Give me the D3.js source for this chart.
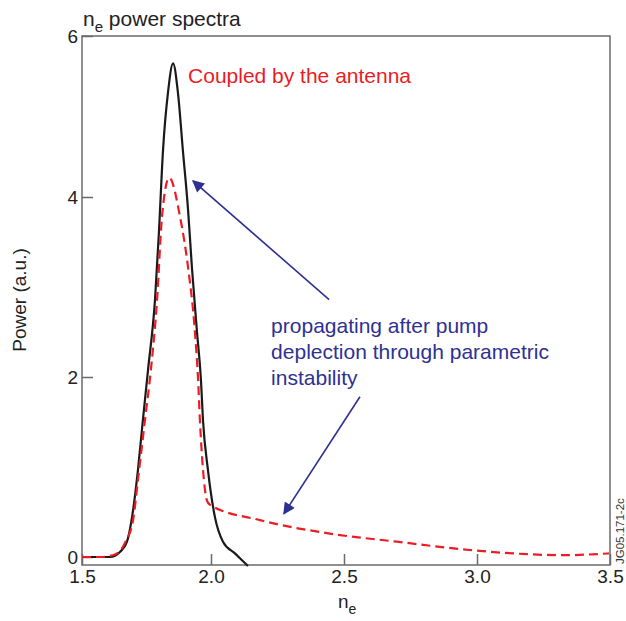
<!DOCTYPE html>
<html>
<head>
<meta charset="utf-8">
<script src="https://cdn.jsdelivr.net/npm/d3@7"></script>
<style>
  body { margin: 0; background: #fff; }
  svg { display: block; font-family: "Liberation Sans", Arial, Helvetica, sans-serif; }
</style>
</head>
<body>
<div class="d3Chart"></div>
<script>
// tick labels
var xTicks = [1.5, 2.0, 2.5, 3.0, 3.5];
var yTicks = [0, 2, 4, 6];

// black solid curve (total spectrum)
var neTotal = [1.5, 1.609, 1.647, 1.674, 1.698, 1.717, 1.736, 1.756, 1.783, 1.798, 1.814, 1.833, 1.853,
  1.872, 1.891, 1.911, 1.926, 1.946, 1.961, 1.969, 1.988, 2.015, 2.045, 2.092, 2.139];
var powerTotal = [0, 0, 0.056, 0.167, 0.52, 0.97, 1.52, 2.08, 2.86, 3.6, 4.58, 5.29, 5.66,
  5.29, 4.58, 3.86, 3.22, 2.49, 1.97, 1.52, 0.97, 0.44, 0.17, 0.035, -0.1];

// red dashed curve (coupled by the antenna)
var neAntenna = [1.5, 1.57, 1.63, 1.667, 1.698, 1.717, 1.744, 1.767, 1.791, 1.81, 1.838, 1.88, 1.911,
  1.938, 1.95, 1.957, 1.969, 1.984, 1.996, 2.184, 2.447, 2.699, 3.0, 3.199, 3.323, 3.496];
var powerAntenna = [0, 0, 0.03, 0.16, 0.41, 0.86, 1.52, 2.08, 2.86, 3.78, 4.24, 3.78, 3.22,
  2.49, 1.97, 1.52, 0.97, 0.63, 0.58, 0.41, 0.26, 0.17, 0.07, 0.03, 0.02, 0.04];

var width = 626;
var height = 621;
// plot box
var boxLeft = 82, boxRight = 610, boxTop = 36, boxBottom = 565;

var red = "#ec1c24";
var blue = "#2e3192";
var frameColor = "#6b6b6b";

var svg = d3
  .select(".d3Chart")
  .append("svg")
  .attr("width", width)
  .attr("height", height);

// scales (the original figure's axes are slightly uneven, so piecewise)
var x = d3.scaleLinear().domain(xTicks).range([82, 211, 344, 477, 610]);
var y = d3.scaleLinear().domain(yTicks).range([557, 377, 197, 36]);

// frame
svg.append("rect")
  .attr("x", boxLeft)
  .attr("y", boxTop)
  .attr("width", boxRight - boxLeft)
  .attr("height", boxBottom - boxTop)
  .attr("fill", "none")
  .attr("stroke", frameColor)
  .attr("stroke-width", 1.5);

// x axis, ticks inside
var xAxis = svg.append("g")
  .attr("transform", "translate(0," + boxBottom + ")")
  .call(d3.axisBottom(x).tickValues(xTicks).tickFormat(d3.format(".1f")).tickSize(-11).tickPadding(5));
xAxis.select(".domain").remove();
xAxis.selectAll("line").attr("stroke", frameColor).attr("stroke-width", 1.5);
xAxis.selectAll("text").attr("font-size", 19).attr("fill", "#222").attr("font-family", null);

// y axis, ticks inside
var yAxis = svg.append("g")
  .attr("transform", "translate(" + boxLeft + ",0)")
  .call(d3.axisLeft(y).tickValues(yTicks).tickFormat(d3.format("d")).tickSize(-11).tickPadding(4));
yAxis.select(".domain").remove();
yAxis.selectAll("line").attr("stroke", frameColor).attr("stroke-width", 1.5);
yAxis.selectAll("text").attr("font-size", 19).attr("fill", "#222").attr("font-family", null);

// axis labels
var xLabel = svg.append("text")
  .attr("x", 338)
  .attr("y", 608)
  .attr("font-size", 19)
  .attr("fill", "#222");
xLabel.append("tspan").text("n");
xLabel.append("tspan").attr("font-size", 14).attr("dy", 6).text("e");

svg.append("text")
  .attr("transform", "translate(26,300) rotate(-90)")
  .attr("text-anchor", "middle")
  .attr("font-size", 19)
  .attr("fill", "#222")
  .text("Power (a.u.)");

// title
var title = svg.append("text")
  .attr("x", 83)
  .attr("y", 26)
  .attr("font-size", 21)
  .attr("fill", "#222");
title.append("tspan").text("n");
title.append("tspan").attr("font-size", 15).attr("dy", 6).text("e");
title.append("tspan").attr("dy", -6).text(" power spectra");

// figure id
svg.append("text")
  .attr("transform", "translate(624,564) rotate(-90)")
  .attr("font-size", 11.5)
  .attr("fill", "#333")
  .text("JG05.171-2c");

// curves
var line = d3.line()
  .x((d) => x(d[0]))
  .y((d) => y(d[1]))
  .curve(d3.curveMonotoneX);

svg.append("path")
  .attr("d", line(d3.zip(neTotal, powerTotal)))
  .attr("fill", "none")
  .attr("stroke", "#1a1a1a")
  .attr("stroke-width", 2.2);

svg.append("path")
  .attr("d", line(d3.zip(neAntenna, powerAntenna)))
  .attr("fill", "none")
  .attr("stroke", red)
  .attr("stroke-width", 2.2)
  .attr("stroke-dasharray", "9,5");

// annotations
svg.append("text")
  .attr("x", x(1.911))
  .attr("y", y(5.42))
  .attr("font-size", 21)
  .attr("fill", red)
  .text("Coupled by the antenna");

var note = svg.append("text")
  .attr("x", x(2.226))
  .attr("font-size", 21)
  .attr("fill", blue);
["propagating after pump", "deplection through parametric", "instability"].forEach(function (t, i) {
  note.append("tspan")
    .attr("x", x(2.226))
    .attr("y", 333 + i * 26)
    .text(t);
});

// arrow marker
svg.append("defs")
  .append("marker")
  .attr("id", "head")
  .attr("viewBox", "0 0 10 10")
  .attr("refX", 9)
  .attr("refY", 5)
  .attr("markerUnits", "userSpaceOnUse")
  .attr("markerWidth", 16)
  .attr("markerHeight", 12)
  .attr("orient", "auto")
  .append("path")
  .attr("d", "M0,0 L10,5 L0,10 Z")
  .attr("fill", blue);

var arrows = [
  [[2.444, 2.86], [1.93, 4.2]],
  [[2.56, 1.78], [2.274, 0.48]],
];
svg.selectAll(".arrow")
  .data(arrows)
  .enter()
  .append("line")
  .attr("class", "arrow")
  .attr("x1", (d) => x(d[0][0]))
  .attr("y1", (d) => y(d[0][1]))
  .attr("x2", (d) => x(d[1][0]))
  .attr("y2", (d) => y(d[1][1]))
  .attr("stroke", blue)
  .attr("stroke-width", 1.6)
  .attr("marker-end", "url(#head)");
</script>
</body>
</html>
